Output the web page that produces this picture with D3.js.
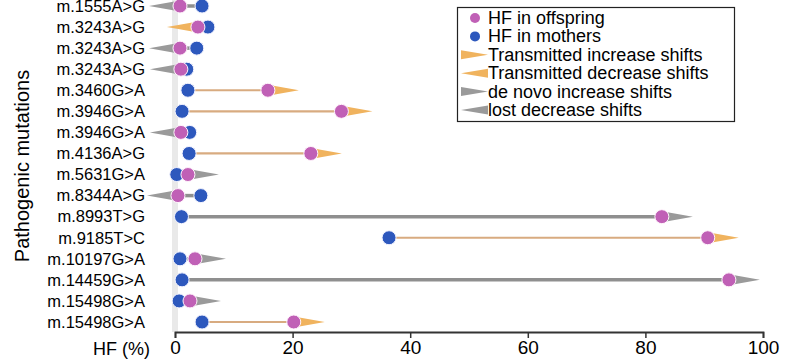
<!DOCTYPE html>
<html>
<head>
<meta charset="utf-8">
<script src="https://cdn.jsdelivr.net/npm/d3@7/dist/d3.min.js"></script>
<style>
  body { margin: 0; background: #fff; }
  svg { display: block; font-family: "Liberation Sans", Arial, sans-serif; }
</style>
</head>
<body>
<svg id="chart" width="791" height="364"></svg>
<script>
// mutations, top to bottom
const mutations = ["m.1555A>G", "m.3243A>G", "m.3243A>G", "m.3243A>G", "m.3460G>A", "m.3946G>A",
  "m.3946G>A", "m.4136A>G", "m.5631G>A", "m.8344A>G", "m.8993T>G", "m.9185T>C",
  "m.10197G>A", "m.14459G>A", "m.15498G>A", "m.15498G>A"];
const hfMothers   = [4.6, 5.6, 3.7, 2.0, 2.2, 1.2, 2.5, 2.4, 0.3, 4.4, 1.1, 36.4, 0.85, 1.2, 0.7, 4.6];
const hfOffspring = [0.85, 3.9, 0.85, 1.0, 15.8, 28.3, 1.0, 23.1, 2.2, 0.5, 82.8, 90.6, 3.4, 94.2, 2.55, 20.2];
// "t" = transmitted (orange), "n" = de novo / lost (gray)
const shiftKind = ["n", "t", "n", "n", "t", "t", "n", "t", "n", "n", "n", "t", "n", "n", "n", "t"];
const xTicks = [0, 20, 40, 60, 80, 100];
const legendLabels = ["HF in offspring", "HF in mothers", "Transmitted increase shifts",
  "Transmitted decrease shifts", "de novo increase shifts", "lost decrease shifts"];

const pink = "#c060b6", blue = "#2d58bd";
const lineCol = { t: "#d8ab80", n: "#8f8f8f" };
const arrowCol = { t: "#f0b35e", n: "#9a9a9a" };

const svg = d3.select("#chart");

const x = d3.scaleLinear().domain([0, 100]).range([175, 763]);
const y = d3.scalePoint().domain(d3.range(mutations.length)).range([6, 322]);

// light band at zero
svg.append("rect")
    .attr("x", x(0) - 3)
    .attr("y", 0)
    .attr("width", 6)
    .attr("height", 332)
    .style("fill", "#e9e9e9");

// y labels
const yAxis = svg.append("g")
    .attr("transform", "translate(" + x(0) + ",0)")
    .call(d3.axisLeft(y).tickSize(0).tickPadding(30).tickFormat(i => mutations[i]));
yAxis.select(".domain").remove();
yAxis.selectAll("text")
    .style("font-size", "16.5px")
    .style("fill", "#000")
    .style("font-family", "'Liberation Sans', Arial, sans-serif");

// x axis
const xAxis = svg.append("g")
    .attr("transform", "translate(0,332)")
    .call(d3.axisBottom(x).tickValues(xTicks).tickSize(6).tickPadding(3));
xAxis.select(".domain").attr("stroke", "#333").attr("stroke-width", 1.8);
xAxis.selectAll(".tick line").attr("stroke", "#333").attr("stroke-width", 1.5);
xAxis.selectAll("text")
    .style("font-size", "19px")
    .style("fill", "#000")
    .style("font-family", "'Liberation Sans', Arial, sans-serif");

svg.append("text")
    .attr("x", 150)
    .attr("y", 355)
    .attr("text-anchor", "end")
    .style("font-size", "18px")
    .style("fill", "#000")
    .text("HF (%)");

svg.append("text")
    .attr("transform", "translate(29,166) rotate(-90)")
    .attr("text-anchor", "middle")
    .style("font-size", "20px")
    .style("fill", "#000")
    .text("Pathogenic mutations");

const rows = d3.range(mutations.length);
const arrowLen = 31, arrowHalf = 5.5;

// connecting lines
svg.selectAll(".link")
    .data(rows)
    .join("line")
    .attr("class", "link")
    .attr("x1", i => x(hfMothers[i]))
    .attr("x2", i => x(hfOffspring[i]))
    .attr("y1", i => y(i))
    .attr("y2", i => y(i))
    .attr("stroke", i => lineCol[shiftKind[i]])
    .attr("stroke-width", i => shiftKind[i] == "t" ? 2.2 : 3.5);

// shift arrows
svg.selectAll(".arrow")
    .data(rows)
    .join("path")
    .attr("class", "arrow")
    .attr("d", i => {
        const x0 = x(hfOffspring[i]), y0 = y(i);
        const dir = hfOffspring[i] >= hfMothers[i] ? 1 : -1;
        return "M" + x0 + "," + (y0 - arrowHalf) + "L" + (x0 + dir * arrowLen) + "," + y0 +
            "L" + x0 + "," + (y0 + arrowHalf) + "Z";
    })
    .style("fill", i => arrowCol[shiftKind[i]]);

// mothers then offspring on top
svg.selectAll(".mother")
    .data(rows)
    .join("circle")
    .attr("class", "mother")
    .attr("cx", i => x(hfMothers[i]))
    .attr("cy", i => y(i))
    .attr("r", 7)
    .style("fill", blue)
    .style("stroke", "#f4f4ff")
    .style("stroke-width", 1);

svg.selectAll(".offspring")
    .data(rows)
    .join("circle")
    .attr("class", "offspring")
    .attr("cx", i => x(hfOffspring[i]))
    .attr("cy", i => y(i))
    .attr("r", 7)
    .style("fill", pink)
    .style("stroke", "#fff4fc")
    .style("stroke-width", 1);

// legend
const lg = svg.append("g");
lg.append("rect")
    .attr("x", 457.5)
    .attr("y", 7.5)
    .attr("width", 277)
    .attr("height", 114)
    .style("fill", "#fff")
    .style("stroke", "#222")
    .style("stroke-width", 1.2);

const lgY = d => 18 + d * 18.4;
lg.selectAll(".lgtext")
    .data(legendLabels)
    .join("text")
    .attr("class", "lgtext")
    .attr("x", 488)
    .attr("y", (d, i) => lgY(i) + 6)
    .style("font-size", "18px")
    .style("fill", "#000")
    .text(d => d);

lg.append("circle").attr("cx", 475).attr("cy", lgY(0)).attr("r", 5).style("fill", pink);
lg.append("circle").attr("cx", 475).attr("cy", lgY(1)).attr("r", 5).style("fill", blue);

const lgArrows = [
    { row: 2, dir: 1, col: arrowCol.t },
    { row: 3, dir: -1, col: arrowCol.t },
    { row: 4, dir: 1, col: arrowCol.n },
    { row: 5, dir: -1, col: arrowCol.n }
];
lg.selectAll(".lgarrow")
    .data(lgArrows)
    .join("path")
    .attr("class", "lgarrow")
    .attr("d", a => {
        const yy = lgY(a.row);
        const base = a.dir > 0 ? 461 : 488, tip = a.dir > 0 ? 488 : 461;
        return "M" + base + "," + (yy - 4.5) + "L" + tip + "," + yy + "L" + base + "," + (yy + 4.5) + "Z";
    })
    .style("fill", a => a.col);
</script>
</body>
</html>
